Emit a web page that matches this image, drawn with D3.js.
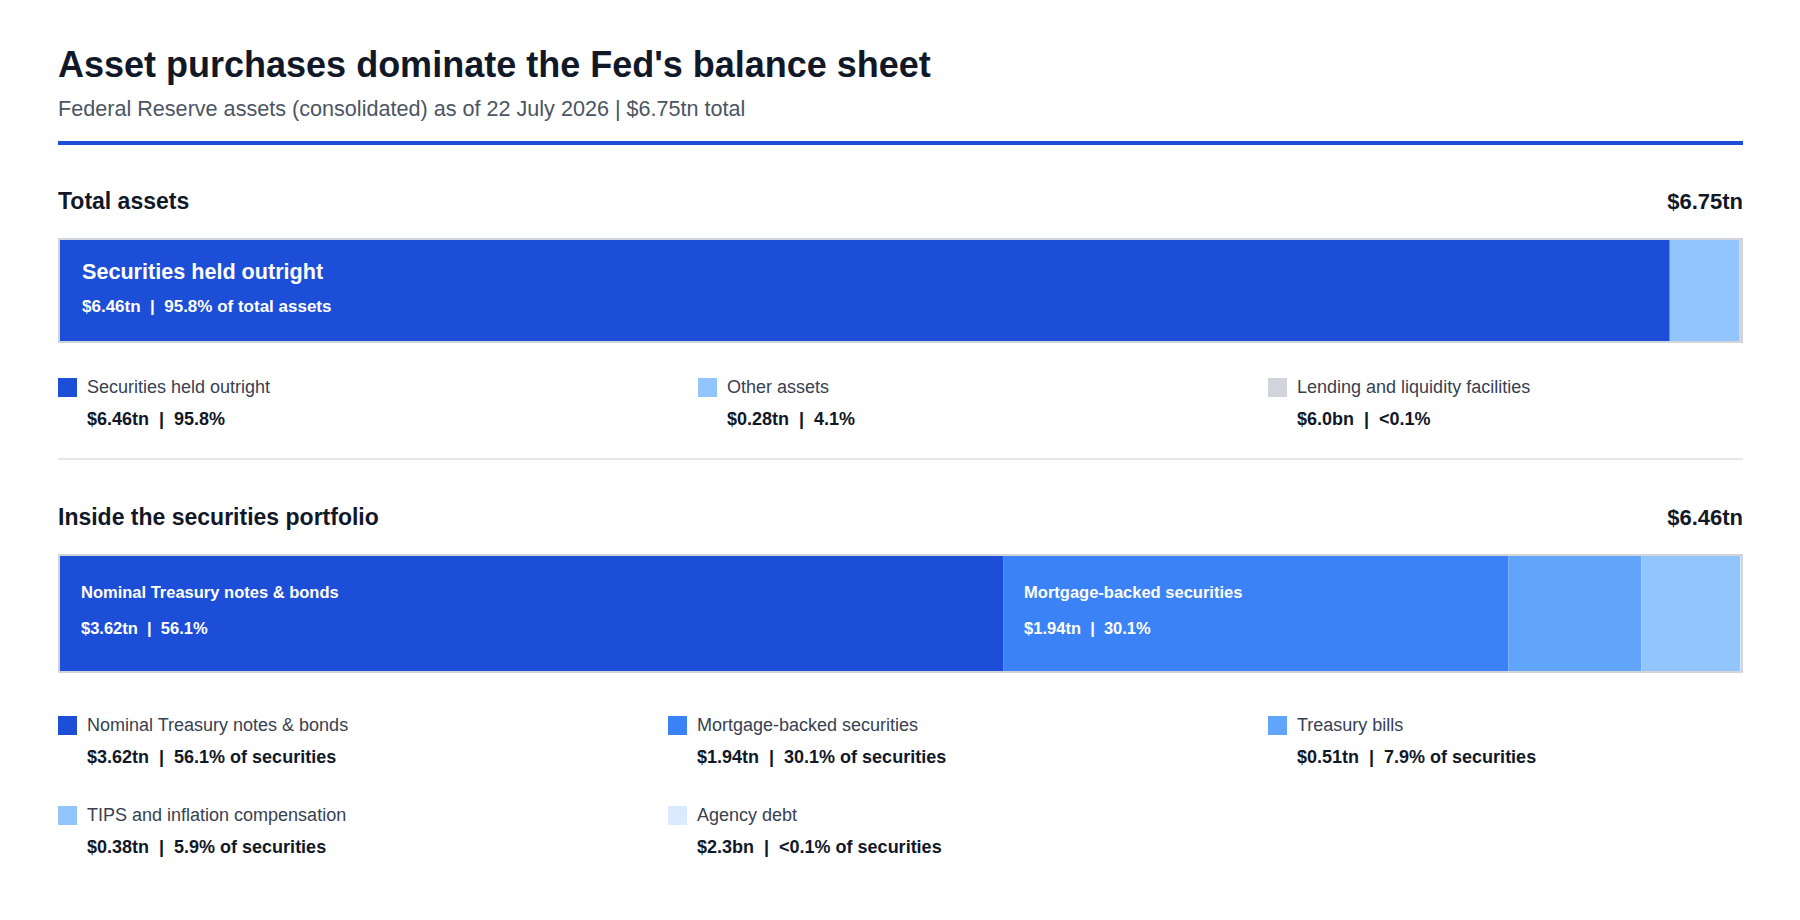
<!DOCTYPE html>
<html>
<head>
<meta charset="utf-8">
<script src="https://cdn.jsdelivr.net/npm/d3@7"></script>
<style>
  html, body { margin: 0; padding: 0; background: #fff; }
  svg text { font-family: "Liberation Sans", Arial, sans-serif; white-space: pre; }
</style>
</head>
<body>
<svg id="chart"></svg>
<script>
// total assets breakdown ($tn)
var assetNames = ["Securities held outright", "Other assets", "Lending and liquidity facilities"];
var assetValues = [6.46, 0.28, 0.006];
var assetAmountLabels = ["$6.46tn", "$0.28tn", "$6.0bn"];
var assetShareLabels = ["95.8%", "4.1%", "<0.1%"];
var assetColors = ["#1d4ed8", "#93c5fd", "#d1d5db"];

// securities portfolio breakdown ($tn)
var secNames = ["Nominal Treasury notes & bonds", "Mortgage-backed securities", "Treasury bills",
                "TIPS and inflation compensation", "Agency debt"];
var secValues = [3.62, 1.94, 0.51, 0.38, 0.0023];
var secAmountLabels = ["$3.62tn", "$1.94tn", "$0.51tn", "$0.38tn", "$2.3bn"];
var secShareLabels = ["56.1%", "30.1%", "7.9%", "5.9%", "<0.1%"];
var secColors = ["#1d4ed8", "#3b82f6", "#60a5fa", "#93c5fd", "#dbeafe"];

var W = 1800, H = 920;
var left = 58, right = 1743;
var sep = "  |  ";

var svg = d3.select("#chart").attr("width", W).attr("height", H);
svg.append("rect").attr("width", W).attr("height", H).attr("fill", "#fff");

svg.append("text").attr("x", left).attr("y", 77)
    .style("font-size", "36px").style("font-weight", "bold").attr("fill", "#111827")
    .text("Asset purchases dominate the Fed's balance sheet");
svg.append("text").attr("x", left).attr("y", 116)
    .style("font-size", "21.6px").attr("fill", "#4b5563")
    .text("Federal Reserve assets (consolidated) as of 22 July 2026 | $6.75tn total");
svg.append("rect").attr("x", left).attr("y", 141).attr("width", right - left).attr("height", 4)
    .attr("fill", "#1d4ed8");

function header(y, title, total) {
  svg.append("text").attr("x", left).attr("y", y)
      .style("font-size", "23px").style("font-weight", "bold").attr("fill", "#111827").text(title);
  svg.append("text").attr("x", right).attr("y", y).attr("text-anchor", "end")
      .style("font-size", "22px").style("font-weight", "bold").attr("fill", "#111827").text(total);
}

// stacked bar: top = outer top edge, h = outer height (2px border)
function stackBar(top, h, values, colors, labels, opt) {
  var x = d3.scaleLinear().domain([0, d3.sum(values)]).range([left + 2, right - 2]);
  var starts = d3.cumsum([0].concat(values));
  var segs = values.map(function(v, i) {
    return { i: i, x0: x(starts[i]), x1: x(starts[i] + v) };
  });
  var g = svg.append("g");
  g.selectAll("rect.seg").data(segs).enter().append("rect")
      .attr("class", "seg")
      .attr("x", function(d) { return d.x0; })
      .attr("y", top + 2)
      .attr("width", function(d) { return Math.max(0, d.x1 - d.x0); })
      .attr("height", h - 4)
      .attr("fill", function(d) { return colors[d.i]; });
  g.append("rect").attr("x", left + 1).attr("y", top + 1)
      .attr("width", right - left - 2).attr("height", h - 2)
      .attr("fill", "none").attr("stroke", "#d1d5db").attr("stroke-width", 2);

  var lab = g.selectAll("g.lab").data(segs.filter(function(d) { return d.x1 - d.x0 > 300; }))
      .enter().append("g").attr("class", "lab");
  lab.append("text")
      .attr("x", function(d) { return d.x0 + opt.pad; })
      .attr("y", top + 2 + opt.titleY)
      .style("font-size", opt.titleSize + "px").style("font-weight", "bold").attr("fill", "#fff")
      .text(function(d) { return labels.names[d.i]; });
  lab.append("text")
      .attr("x", function(d) { return d.x0 + opt.pad; })
      .attr("y", top + 2 + opt.valueY)
      .style("font-size", opt.valueSize + "px").style("font-weight", "bold").attr("fill", "#fff")
      .text(function(d) { return labels.amounts[d.i] + sep + labels.shares[d.i] + opt.suffix; });
}

function legend(names, amounts, shares, colors, cols, top, rowH, suffix) {
  var items = names.map(function(n, i) {
    return { i: i, x: cols[i % cols.length], y: top + Math.floor(i / cols.length) * rowH };
  });
  var it = svg.append("g").selectAll("g").data(items).enter().append("g")
      .attr("transform", function(d) { return "translate(" + d.x + "," + d.y + ")"; });
  it.append("rect").attr("width", 19).attr("height", 19)
      .attr("fill", function(d) { return colors[d.i]; });
  it.append("text").attr("x", 29).attr("y", 15)
      .style("font-size", "18px").attr("fill", "#374151")
      .text(function(d) { return names[d.i]; });
  it.append("text").attr("x", 29).attr("y", 47)
      .style("font-size", "18px").style("font-weight", "bold").attr("fill", "#111827")
      .text(function(d) { return amounts[d.i] + sep + shares[d.i] + suffix; });
}

// section 1
header(209, "Total assets", "$6.75tn");
stackBar(238, 105, assetValues, assetColors,
    { names: assetNames, amounts: assetAmountLabels, shares: assetShareLabels },
    { pad: 22, titleY: 39, valueY: 72, titleSize: 21.6, valueSize: 17, suffix: " of total assets" });
legend(assetNames, assetAmountLabels, assetShareLabels, assetColors, [58, 698, 1268], 378, 90, "");

svg.append("rect").attr("x", left).attr("y", 458).attr("width", right - left).attr("height", 2)
    .attr("fill", "#e5e7eb");

// section 2
header(525, "Inside the securities portfolio", "$6.46tn");
stackBar(554, 119, secValues, secColors,
    { names: secNames, amounts: secAmountLabels, shares: secShareLabels },
    { pad: 21, titleY: 42, valueY: 78, titleSize: 16.5, valueSize: 16.5, suffix: "" });
legend(secNames, secAmountLabels, secShareLabels, secColors, [58, 668, 1268], 716, 90, " of securities");
</script>
</body>
</html>
